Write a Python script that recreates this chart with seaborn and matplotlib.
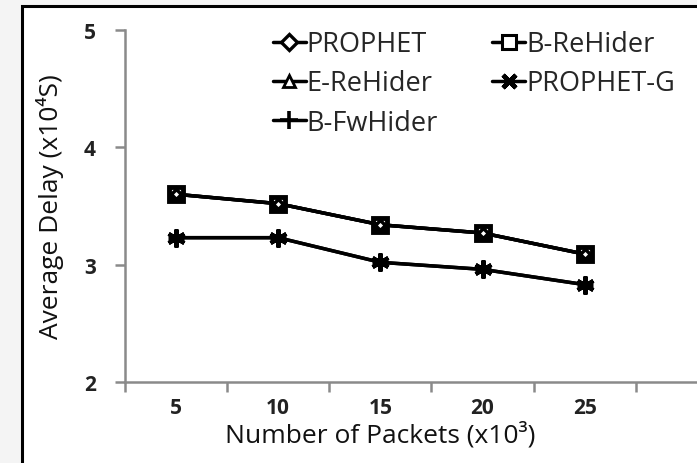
import numpy as np
import pandas as pd
import seaborn as sns
import matplotlib
matplotlib.use("Agg")
import matplotlib.pyplot as plt
from matplotlib.lines import Line2D
from matplotlib.patches import Rectangle

# ---- data ----
packets = [5, 10, 15, 20, 25]
prophet = [3.60, 3.52, 3.34, 3.27, 3.09]
e_rehider = [3.60, 3.52, 3.34, 3.27, 3.09]
b_rehider = [3.60, 3.52, 3.34, 3.27, 3.09]
prophet_g = [3.23, 3.23, 3.02, 2.96, 2.83]
b_fwhider = [3.23, 3.23, 3.02, 2.96, 2.83]
y_ticks = [2, 3, 4, 5]

sns.set_theme(style="white")
plt.rcParams["font.family"] = ["Open Sans", "DejaVu Sans"]

W, H = 697, 464
fig = plt.figure(figsize=(W / 100, H / 100), dpi=100, facecolor="#f4f4f4")
fig.patches.append(Rectangle((22 / W, -0.05), 1.2, (H - 7) / H + 0.05,
                             transform=fig.transFigure, facecolor="white",
                             edgecolor="black", linewidth=2.2, zorder=-5))

ax = fig.add_axes([125 / W, 81 / H, 572 / W, 352 / H])
ax.set_facecolor("none")
ax.set_zorder(2)

# marker styles used on the data lines
styles = {
    "B-ReHider": dict(marker="s", markersize=10, markerfacecolor="white", markeredgewidth=3.5),
    "E-ReHider": dict(marker="^", markersize=7, markerfacecolor="white", markeredgewidth=2.5),
    "PROPHET": dict(marker="D", markersize=5, markerfacecolor="white", markeredgewidth=2.5),
    "PROPHET-G": dict(marker=(6, 2, 0), markersize=13, markeredgewidth=3.0),
    "B-FwHider": dict(marker="+", markersize=12, markeredgewidth=2.5),
}
# marker styles used in the legend
leg_styles = {
    "B-ReHider": dict(marker="s", markersize=10, markerfacecolor="white", markeredgewidth=2.2),
    "E-ReHider": dict(marker="^", markersize=9, markerfacecolor="white", markeredgewidth=2.0),
    "PROPHET": dict(marker="D", markersize=8, markerfacecolor="white", markeredgewidth=2.4),
    "PROPHET-G": dict(marker=(4, 2, 45), markersize=13, markeredgewidth=3.2),
    "B-FwHider": dict(marker="+", markersize=13, markeredgewidth=2.6),
}
series = {
    "B-ReHider": b_rehider,
    "E-ReHider": e_rehider,
    "PROPHET": prophet,
    "B-FwHider": b_fwhider,
    "PROPHET-G": prophet_g,
}
for name, vals in series.items():
    df = pd.DataFrame({"packets": packets, "delay": vals})
    sns.lineplot(data=df, x="packets", y="delay", ax=ax, color="black",
                 linewidth=2.5, markeredgecolor="black", legend=False,
                 clip_on=False, **styles[name])

ax.set_xlim(2.5, 30.5)
ax.set_ylim(2, 5)
ax.set_xticks(packets)
ax.set_xticklabels([str(p) for p in packets])
ax.set_xticks([p - 2.5 for p in packets] + [packets[-1] + 2.5], minor=True)
ax.set_yticks(y_ticks)

for s in ["top", "right"]:
    ax.spines[s].set_visible(False)
for s in ["left", "bottom"]:
    ax.spines[s].set_color("#8a8a8a")
    ax.spines[s].set_linewidth(1.8)

ax.tick_params(axis="x", which="major", length=0, pad=11, labelsize=15, bottom=True)
ax.tick_params(axis="x", which="minor", length=7, width=1.8, color="#8a8a8a",
               direction="out", bottom=True)
ax.tick_params(axis="y", which="major", length=7, width=1.8, color="#8a8a8a",
               direction="out", pad=14, labelsize=15, left=True)
for lab in ax.get_xticklabels() + ax.get_yticklabels():
    lab.set_fontweight("bold")
    lab.set_color("#222222")

ax.set_xlabel("Number of Packets (x10³)", fontsize=19, color="#111111")
ax.set_ylabel("Average Delay (x10⁴S)", fontsize=19, color="#111111")
ax.xaxis.set_label_coords(0.446, -0.148)
ax.xaxis.label.set_va("center")
ax.yaxis.set_label_coords(-0.131, 0.5)
ax.yaxis.label.set_va("center")

order = ["PROPHET", "E-ReHider", "B-FwHider", "B-ReHider", "PROPHET-G"]
handles = [Line2D([], [], color="black", linewidth=2.5, markeredgecolor="black", **leg_styles[n])
           for n in order]
leg = ax.legend(handles, order, ncol=2, loc="upper left",
                bbox_to_anchor=(273 / W, 1 - 31 / H), bbox_transform=fig.transFigure,
                frameon=False, fontsize=19.5,
                handlelength=1.2, handletextpad=0.05, columnspacing=2.0,
                labelspacing=0.42, borderpad=0, borderaxespad=0)

fig.savefig("out.png", dpi=100, facecolor=fig.get_facecolor())
